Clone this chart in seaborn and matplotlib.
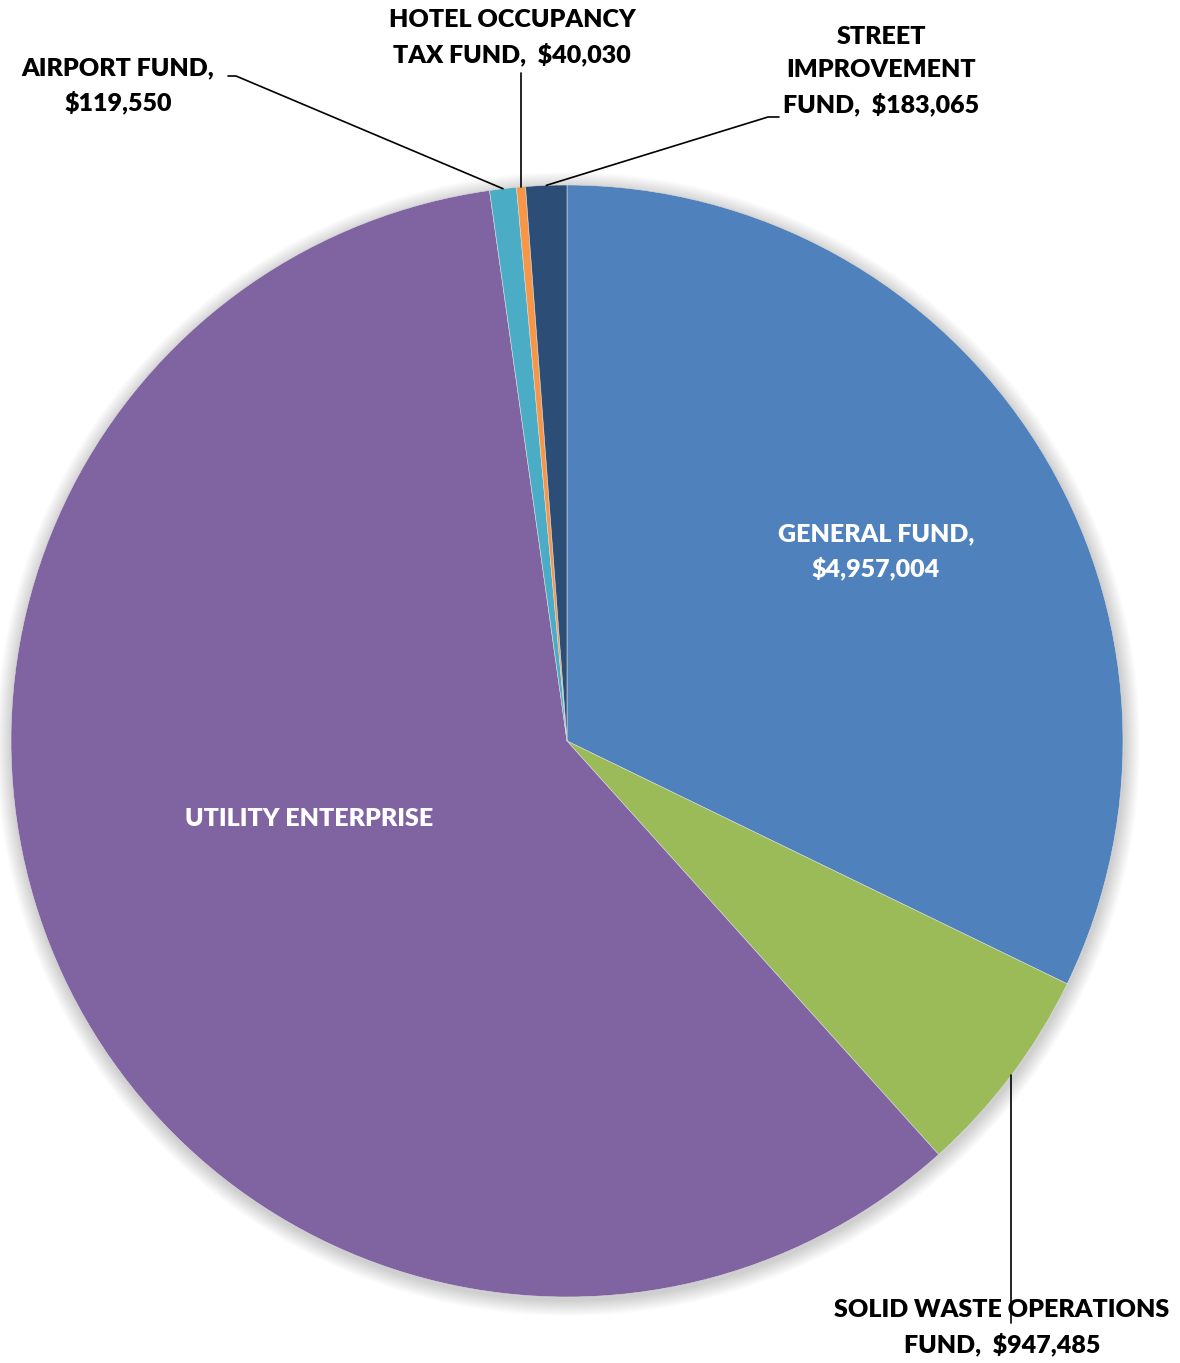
import numpy as np
import matplotlib
matplotlib.use("Agg")
import matplotlib.pyplot as plt
import seaborn as sns
from matplotlib.patches import Circle

# Fund budgets (clockwise from 12 o'clock)
funds = ["GENERAL FUND", "SOLID WASTE OPERATIONS FUND", "UTILITY ENTERPRISE",
         "AIRPORT FUND", "HOTEL OCCUPANCY TAX FUND", "STREET IMPROVEMENT FUND"]
amounts = [4957004, 947485, 9150000, 119550, 40030, 183065]
label_texts = ["GENERAL FUND,\n$4,957,004",
               "SOLID WASTE OPERATIONS\nFUND,  $947,485",
               "UTILITY ENTERPRISE",
               "AIRPORT FUND,\n$119,550",
               "HOTEL OCCUPANCY\nTAX FUND,  $40,030",
               "STREET\nIMPROVEMENT\nFUND,  $183,065"]
colors = ["#4F81BD", "#9BBB59", "#8064A2", "#4BACC6", "#F79646", "#2C4D75"]

sns.set_theme(style="white")
plt.rcParams["font.family"] = ["Lato", "DejaVu Sans"]

W, H = 1180, 1363
fig = plt.figure(figsize=(W / 100, H / 100), dpi=100)
ax = fig.add_axes([0, 0, 1, 1])


def py(y):
    """Convert a top-down pixel row to axis y."""
    return H - y


cx, cy, R = 567, py(741), 556

# soft outer shadow
for i in range(16):
    ax.add_patch(Circle((cx + 1, cy - 3), R + 16 - i, color="black",
                        alpha=0.012, lw=0, zorder=0))

wedges, _ = ax.pie(amounts, colors=colors, startangle=90, counterclock=False,
                   center=(cx, cy), radius=R,
                   wedgeprops=dict(linewidth=0.4, edgecolor="#dddddd"))

ax.set_xlim(0, W)
ax.set_ylim(0, H)
ax.set_aspect("equal")
ax.axis("off")


def rim_point(w):
    mid = np.deg2rad((w.theta1 + w.theta2) / 2)
    return cx + R * np.cos(mid), cy + R * np.sin(mid)


fs = 18
kw = dict(fontsize=fs, fontweight="heavy", ha="center", va="center",
          linespacing=1.6)

# inside labels
ax.text(876, py(552), label_texts[0], color="white", **kw)
ax.text(309, py(819), label_texts[2], color="white", **kw)

# outside labels with leader lines
ax.text(1002, py(1328), label_texts[1], color="black", **kw)
x0, y0 = rim_point(wedges[1])
ax.plot([x0, x0], [y0, py(1323)], color="black", lw=1.2, zorder=5)

ax.text(118, py(86), label_texts[3], color="black", **kw)
x0, y0 = rim_point(wedges[3])
ax.plot([228, 236, x0], [py(76), py(76), y0], color="black", lw=1.2, zorder=5)

ax.text(512, py(38), label_texts[4], color="black", **kw)
x0, y0 = rim_point(wedges[4])
ax.plot([x0, x0], [py(73), y0], color="black", lw=1.2, zorder=5)

ax.text(881, py(71), label_texts[5], color="black", **kw)
x0, y0 = rim_point(wedges[5])
ax.plot([779, 768, x0], [py(117), py(117), y0], color="black", lw=1.2, zorder=5)

fig.savefig("out.png", dpi=100, facecolor="white")
